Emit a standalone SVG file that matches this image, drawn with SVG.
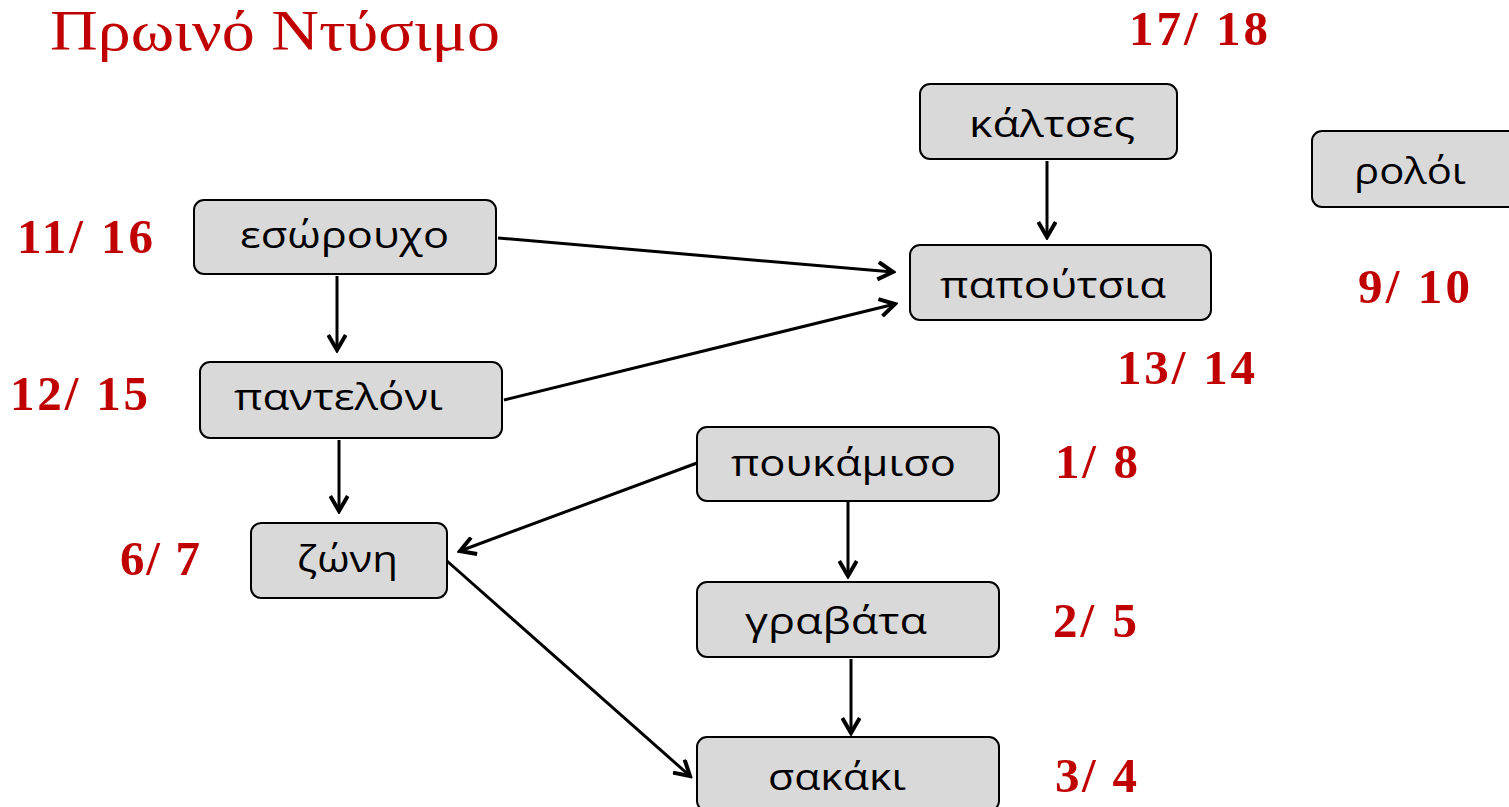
<svg xmlns="http://www.w3.org/2000/svg" width="1509" height="807" viewBox="0 0 1509 807">
<style>
.box{fill:#D9D9D9;stroke:#000;stroke-width:2}
.lbl{font-family:"Open Sans","Noto Sans","DejaVu Sans",sans-serif;font-size:36px;fill:#000}
.num{font-family:"Liberation Serif","DejaVu Serif",serif;font-weight:bold;font-size:49px;fill:#C00000}
.title{font-family:"Liberation Serif","DejaVu Serif",serif;font-size:58px;fill:#C00000}
.conn line{stroke:#000;stroke-width:3;marker-end:url(#ah)}
</style>
<defs>
<marker id="ah" markerUnits="userSpaceOnUse" markerWidth="20" markerHeight="20" viewBox="-13 -8 15 16" refX="0" refY="0" orient="auto">
<path d="M-12,-7 L0,0 L-12,7" fill="none" stroke="#000" stroke-width="3.2"/>
</marker>
</defs>
<rect width="1509" height="807" fill="#fff"/>
<text class="title" x="50" y="50" textLength="450" lengthAdjust="spacingAndGlyphs">Πρωινό Ντύσιμο</text>

<g class="conn">
<line x1="498" y1="238" x2="893" y2="272"/>
<line x1="337" y1="276" x2="337" y2="350"/>
<line x1="504" y1="400" x2="895" y2="304"/>
<line x1="339" y1="440" x2="339" y2="511"/>
<line x1="1047" y1="161" x2="1047" y2="237"/>
<line x1="697" y1="463" x2="460" y2="551"/>
<line x1="848" y1="502" x2="848" y2="576"/>
<line x1="851" y1="659" x2="851" y2="733"/>
<line x1="447" y1="561" x2="690" y2="776"/>
</g>

<g id="esorouho"><rect class="box" x="194" y="200" width="302" height="74" rx="10"/><text class="lbl" x="240" y="248" textLength="209" lengthAdjust="spacingAndGlyphs">εσώρουχο</text></g>
<g id="panteloni"><rect class="box" x="200" y="362" width="302" height="76" rx="10"/><text class="lbl" x="234" y="410" textLength="209" lengthAdjust="spacingAndGlyphs">παντελόνι</text></g>
<g id="zoni"><rect class="box" x="251" y="523" width="196" height="75" rx="10"/><text class="lbl" x="297" y="572" textLength="101" lengthAdjust="spacingAndGlyphs">ζώνη</text></g>
<g id="poukamiso"><rect class="box" x="697" y="427" width="302" height="74" rx="10"/><text class="lbl" x="731" y="476" textLength="225" lengthAdjust="spacingAndGlyphs">πουκάμισο</text></g>
<g id="gravata"><rect class="box" x="697" y="582" width="302" height="75" rx="10"/><text class="lbl" x="745" y="634" textLength="182" lengthAdjust="spacingAndGlyphs">γραβάτα</text></g>
<g id="sakaki"><rect class="box" x="697" y="737" width="302" height="74" rx="10"/><text class="lbl" x="768" y="790" textLength="138" lengthAdjust="spacingAndGlyphs">σακάκι</text></g>
<g id="kaltses"><rect class="box" x="920" y="84" width="257" height="75" rx="10"/><text class="lbl" x="969" y="137" textLength="166" lengthAdjust="spacingAndGlyphs">κάλτσες</text></g>
<g id="papoutsia"><rect class="box" x="910" y="245" width="301" height="75" rx="10"/><text class="lbl" x="940" y="298" textLength="226" lengthAdjust="spacingAndGlyphs">παπούτσια</text></g>
<g id="roloi"><rect class="box" x="1312" y="131" width="210" height="76" rx="10"/><text class="lbl" x="1354" y="184" textLength="112" lengthAdjust="spacingAndGlyphs">ρολόι</text></g>

<g id="numbers">
<text class="num" x="17" y="253" textLength="136" lengthAdjust="spacing">11/ 16</text>
<text class="num" x="10" y="410" textLength="138" lengthAdjust="spacing">12/ 15</text>
<text class="num" x="120" y="575" textLength="80" lengthAdjust="spacing">6/ 7</text>
<text class="num" x="1055" y="478" textLength="83" lengthAdjust="spacing">1/ 8</text>
<text class="num" x="1053" y="637" textLength="84" lengthAdjust="spacing">2/ 5</text>
<text class="num" x="1055" y="792" textLength="82" lengthAdjust="spacing">3/ 4</text>
<text class="num" x="1117" y="384" textLength="138" lengthAdjust="spacing">13/ 14</text>
<text class="num" x="1358" y="303" textLength="112" lengthAdjust="spacing">9/ 10</text>
<text class="num" x="1129" y="45" textLength="139" lengthAdjust="spacing">17/ 18</text>
</g>
</svg>
